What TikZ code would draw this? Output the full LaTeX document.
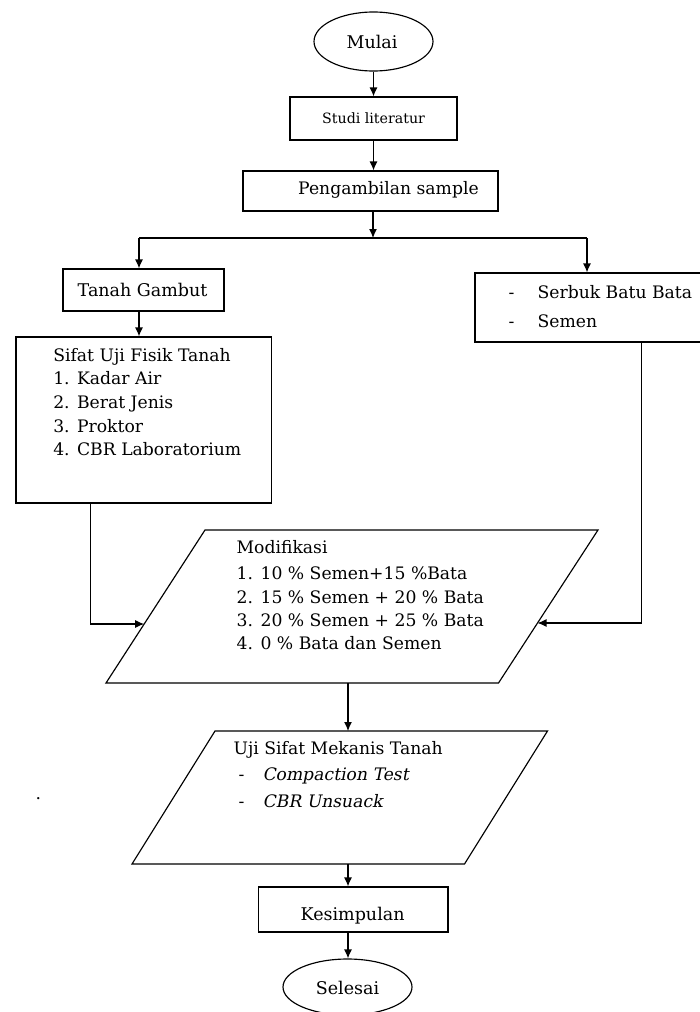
\documentclass[tikz,border=0pt]{standalone}
\usepackage{fontspec}
\setmainfont{DejaVu Serif}
\newfontfamily\slantserif{DejaVu Serif}[FakeSlant=0.2]
\usetikzlibrary{shapes.geometric,arrows.meta,calc}
\begin{document}
\begin{tikzpicture}[x=1pt,y=-1pt,line width=1.15pt,line join=miter,
  box/.style={draw,rectangle,inner sep=0pt},
  term/.style={draw,ellipse,inner sep=0pt},
  arr/.style={-{Latex[length=9pt,width=8pt]}},
  big/.style={inner sep=0pt,anchor=base,font=\fontsize{17.5}{22}\selectfont},
  lst/.style={inner sep=0pt,anchor=base west,font=\fontsize{17.2}{22}\selectfont},
  ilst/.style={lst,font=\fontsize{17.2}{22}\selectfont\slantserif}]
\useasboundingbox (0,0) rectangle (699,1012);

% shapes
\node[term,minimum width=119pt,minimum height=59pt] (mulai) at (373.5,41.5) {};
\node[box,minimum width=167pt,minimum height=43pt] (studi) at (373.5,118.5) {};
\node[box,minimum width=255pt,minimum height=40pt] (ambil) at (370.5,191) {};
\node[box,minimum width=161pt,minimum height=42pt] (tanah) at (143.5,290) {};
\node[box,minimum width=250pt,minimum height=69pt] (serbuk) at (600,307.5) {};
\node[box,minimum width=255.5pt,minimum height=166pt] (sifat) at (143.75,420) {};
\coordinate (m1) at (205,530); \coordinate (m2) at (598,530);
\coordinate (m3) at (498.5,683); \coordinate (m4) at (106,683);
\draw (m1) -- (m2) -- (m3) -- (m4) -- cycle;
\coordinate (u1) at (215,731); \coordinate (u2) at (547.5,731);
\coordinate (u3) at (464.5,864); \coordinate (u4) at (132,864);
\draw (u1) -- (u2) -- (u3) -- (u4) -- cycle;
\node[box,minimum width=189.4pt,minimum height=45pt] (kesim) at (353.3,909.5) {};
\node[term,minimum width=129pt,minimum height=56pt] (selesai) at (347.5,987) {};

% texts
\node[big] (tmulai) at (372,48) {Mulai};
\node[big,font=\fontsize{14.2}{18}\selectfont] (tstudi) at (373.6,123) {Studi literatur};
\node[big,font=\fontsize{17.2}{22}\selectfont] (tambil) at (388.5,194) {Pengambilan sample};
\node[big] (ttanah) at (142.6,296) {Tanah Gambut};
\node[lst] (sd1) at (508,298) {-};
\node[lst] (st1) at (537,298) {Serbuk Batu Bata};
\node[lst] (sd2) at (508,327) {-};
\node[lst] (st2) at (537,327) {Semen};

\node[lst] (f0) at (52.7,361) {Sifat Uji Fisik Tanah};
\node[lst] (f1n) at (52.7,384) {1.}; \node[lst] (f1) at (76.5,384) {Kadar Air};
\node[lst] (f2n) at (52.7,408) {2.}; \node[lst] (f2) at (76.5,408) {Berat Jenis};
\node[lst] (f3n) at (52.7,432) {3.}; \node[lst] (f3) at (76.5,432) {Proktor};
\node[lst] (f4n) at (52.7,455) {4.}; \node[lst] (f4) at (76.5,455) {CBR Laboratorium};

\node[lst] (g0) at (236,553) {Modifikasi};
\node[lst] (g1n) at (236,579) {1.}; \node[lst] (g1) at (260,579) {10 \% Semen+15 \%Bata};
\node[lst] (g2n) at (236,603) {2.}; \node[lst] (g2) at (260,603) {15 \% Semen + 20 \% Bata};
\node[lst] (g3n) at (236,626) {3.}; \node[lst] (g3) at (260,626) {20 \% Semen + 25 \% Bata};
\node[lst] (g4n) at (236,649) {4.}; \node[lst] (g4) at (260,649) {0 \% Bata dan Semen};

\node[lst] (h0) at (233,754) {Uji Sifat Mekanis Tanah};
\node[lst] (h1d) at (238,780) {-}; \node[ilst] (h1) at (262,780) {Compaction Test};
\node[lst] (h2d) at (238,807) {-}; \node[ilst] (h2) at (262,807) {CBR Unsuack};
\node[lst] (dot) at (35,799) {.};

\node[big] (tkesim) at (352.6,920) {Kesimpulan};
\node[big] (tselesai) at (347.5,994) {Selesai};

% connectors
\coordinate (jc) at (373,238);
\coordinate (jl) at (139,238);
\coordinate (jr) at (587,238);
\coordinate (sfx) at (90.5,624);
\coordinate (modL) at (144.2,624);
\coordinate (srx) at (641.5,623);
\coordinate (modR) at (537.5,623);
\coordinate (modB) at (348,683);
\coordinate (ujiT) at (348,731);
\coordinate (ujiB) at (348,864);

\draw[arr] (mulai.south) -- (studi.north);
\draw[arr] (studi.south) -- (studi.south |- ambil.north);
\draw[arr] (ambil.south -| jc) -- (jc);
\draw (jl) -- (jr);
\draw[arr] (jl) -- (jl |- tanah.north);
\draw[arr] (jr) -- (jr |- serbuk.north);
\draw[arr] (tanah.south -| jl) -- (jl |- sifat.north);
\draw[arr] (sifat.south -| sfx) -- (sfx) -- (modL);
\draw[arr] (serbuk.south -| srx) -- (srx) -- (modR);
\draw[arr] (modB) -- (ujiT);
\draw[arr] (ujiB) -- (ujiB |- kesim.north);
\draw[arr] (kesim.south -| ujiB) -- (ujiB |- selesai.north);
\end{tikzpicture}
\end{document}
